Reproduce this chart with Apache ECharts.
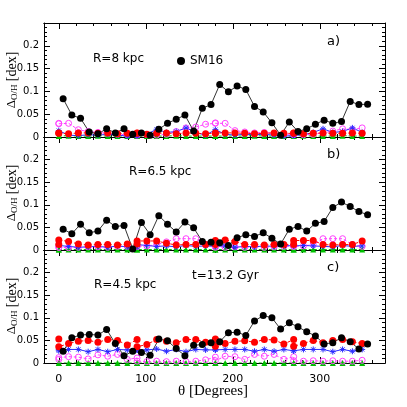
<!DOCTYPE html>
<html>
<head>
<meta charset="utf-8">
<script src="https://cdn.jsdelivr.net/npm/echarts@6/dist/echarts.min.js"></script>
<style>html,body{margin:0;background:#fff}#chart{width:407px;height:407px}</style>
</head>
<body>
<div id="chart"></div>
<script>
// azimuthal bins (degrees)
const thetaSM16 = [5,15,25,35,45,55,65,75,85,95,105,115,125,135,145,155,165,175,185,195,205,215,225,235,245,255,265,275,285,295,305,315,325,335,345,355];
const thetaModel = [0,0,11.25,22.5,33.75,45,56.25,67.5,78.75, 90,90,101.25,112.5,123.75,135,146.25,157.5,168.75,
  180,180,191.25,202.5,213.75,225,236.25,247.5,258.75, 270,270,281.25,292.5,303.75,315,326.25,337.5,348.75];

const xMajor = [0,100,200,300];
const xMinor = [20,40,60,80,120,140,160,180,220,240,260,280,320,340,360];

const panelLabels = ['a)','b)','c)'];
const radiusLabels = ['R=8 kpc','R=6.5 kpc','R=4.5 kpc'];

// SM16 (black)
const sm16A = [0.084,0.048,0.041,0.011,0.007,0.018,0.009,0.018,0.006,0.009,0.004,0.017,0.030,0.039,0.048,0.013,0.063,0.071,0.115,0.099,0.112,0.104,0.067,0.055,0.031,0.004,0.033,0.012,0.018,0.028,0.037,0.030,0.034,0.078,0.071,0.072];
const sm16B = [0.046,0.036,0.057,0.038,0.042,0.066,0.052,0.054,0.002,0.061,0.034,0.076,0.057,0.040,0.062,0.049,0.019,0.017,0.016,0.010,0.027,0.034,0.030,0.038,0.026,0.013,0.046,0.052,0.042,0.059,0.063,0.094,0.106,0.096,0.085,0.078];
const sm16C = [0.026,0.056,0.062,0.063,0.062,0.074,0.043,0.016,0.026,0.023,0.017,0.053,0.049,0.032,0.016,0.039,0.041,0.045,0.047,0.067,0.068,0.061,0.093,0.105,0.100,0.075,0.089,0.080,0.069,0.060,0.042,0.045,0.056,0.047,0.031,0.042];

// models
const redA = [0.009,0.008,0.007,0.009,0.009,0.008,0.009,0.007,0.008, 0.008,0.009,0.006,0.008,0.009,0.007,0.009,0.008,0.007, 0.009,0.008,0.009,0.009,0.008,0.007,0.008,0.009,0.008, 0.008,0.009,0.007,0.008,0.009,0.008,0.008,0.009,0.008];
const redB = [0.012,0.022,0.019,0.013,0.011,0.012,0.012,0.011,0.013, 0.013,0.020,0.020,0.020,0.015,0.011,0.012,0.012,0.012, 0.012,0.021,0.022,0.019,0.012,0.012,0.011,0.012,0.012, 0.012,0.021,0.021,0.021,0.012,0.011,0.012,0.012,0.020];
const redC = [0.053,0.036,0.043,0.048,0.050,0.046,0.052,0.050,0.040, 0.052,0.036,0.041,0.052,0.048,0.045,0.052,0.052,0.046, 0.053,0.037,0.043,0.048,0.049,0.046,0.052,0.051,0.042, 0.052,0.037,0.043,0.050,0.045,0.050,0.052,0.047,0.043];

const blueA = [0.014,0.010,0.004,0.003,0.005,0.004,0.006,0.004,0.002, 0.003,0.004,0.006,0.017,0.010,0.012,0.020,0.010,0.004, 0.016,0.012,0.006,0.004,0.006,0.005,0.006,0.004,0.002, 0.003,0.004,0.005,0.010,0.018,0.010,0.012,0.020,0.010];
const blueB = [0.010,0.012,0.008,0.006,0.007,0.008,0.006,0.009,0.007, 0.007,0.012,0.010,0.008,0.009,0.007,0.010,0.008,0.009, 0.008,0.012,0.009,0.006,0.008,0.007,0.009,0.008,0.010, 0.009,0.012,0.010,0.009,0.008,0.007,0.010,0.008,0.009];
const blueC = [0.027,0.030,0.030,0.030,0.025,0.030,0.025,0.030,0.029, 0.029,0.029,0.029,0.031,0.026,0.030,0.025,0.030,0.029, 0.029,0.029,0.030,0.030,0.030,0.026,0.030,0.026,0.030, 0.027,0.027,0.030,0.030,0.030,0.025,0.030,0.026,0.030];

const pinkA = [0.029,0.030,0.030,0.016,0.012,0.010,0.008,0.006,0.005, 0.005,0.004,0.005,0.004,0.006,0.012,0.020,0.022,0.028, 0.030,0.031,0.030,0.014,0.011,0.009,0.010,0.008,0.006, 0.006,0.005,0.005,0.006,0.009,0.013,0.018,0.016,0.020];
const pinkB = [0.006,0.006,0.005,0.006,0.007,0.007,0.006,0.008,0.008, 0.008,0.008,0.009,0.012,0.018,0.025,0.025,0.025,0.012, 0.008,0.006,0.006,0.007,0.006,0.008,0.006,0.007,0.008, 0.008,0.008,0.009,0.012,0.025,0.025,0.025,0.012,0.008];
const pinkC = [0.012,0.008,0.014,0.013,0.009,0.018,0.015,0.019,0.008, 0.011,0.004,0.003,0.004,0.003,0.004,0.003,0.004,0.007, 0.013,0.005,0.015,0.014,0.008,0.019,0.015,0.019,0.008, 0.014,0.005,0.004,0.005,0.004,0.005,0.004,0.004,0.006];

const greenA = [0.002,0.002,0.003,0.002,0.002,0.003,0.002,0.002,0.002, 0.002,0.003,0.002,0.002,0.002,0.003,0.002,0.002,0.002, 0.002,0.003,0.002,0.002,0.002,0.003,0.002,0.002,0.002, 0.002,0.002,0.003,0.002,0.002,0.002,0.003,0.002,0.002];
const greenB = [0.001,0.001,0.001,0.001,0.001,0.001,0.001,0.001,0.001, 0.001,0.001,0.001,0.001,0.001,0.001,0.001,0.001,0.001, 0.001,0.001,0.001,0.001,0.001,0.001,0.001,0.001,0.001, 0.001,0.001,0.001,0.001,0.001,0.001,0.001,0.001,0.001];
const greenC = [0,0,0,0,0,0,0,0,0, 0,0,0,0,0,0,0,0,0, 0,0,0,0,0,0,0,0,0, 0,0,0,0,0,0,0,0,0];

const panels = [
  { sm16: sm16A, red: redA, blue: blueA, pink: pinkA, green: greenA },
  { sm16: sm16B, red: redB, blue: blueB, pink: pinkB, green: greenB },
  { sm16: sm16C, red: redC, blue: blueC, pink: pinkC, green: greenC }
];

const tops = [23, 137, 250];
const heights = [114, 113, 113];
const sans = 'DejaVu Sans';
const serif = 'Liberation Serif';

const chart = echarts.init(document.getElementById('chart'));

const grid = [], xAxis = [], yAxis = [], series = [];

const pairs = (xs, ys) => xs.map((x, i) => [x, ys[i]]);
const frame = () => ({ show: true, onZero: false, lineStyle: { color: '#000', width: 1 } });
const ticks = (len, vals) => {
  const t = { show: true, inside: true, length: len, lineStyle: { color: '#000', width: 1 } };
  if (vals) t.customValues = vals.slice();
  return t;
};

panels.forEach((p, g) => {
  grid.push({ left: 44, width: 341, top: tops[g], height: heights[g], outerBoundsMode: 'none' });

  // x axes: bottom/top major, bottom/top minor
  [['bottom', 6, xMajor], ['top', 6, xMajor], ['bottom', 3, xMinor], ['top', 3, xMinor]].forEach(([pos, len, vals], k) => {
    const withLabels = g === 2 && k === 0;
    xAxis.push({
      gridIndex: g, type: 'value', min: -17, max: 375, position: pos,
      axisLine: frame(), splitLine: { show: false },
      axisTick: ticks(len, vals),
      axisLabel: withLabels
        ? { customValues: xMajor.slice(), color: '#000', fontSize: 11, fontFamily: sans, margin: 11 }
        : { show: false }
    });
  });

  // y axes: left with labels, right ticks only
  ['left', 'right'].forEach(pos => {
    yAxis.push({
      gridIndex: g, type: 'value', min: 0, max: 0.25, interval: 0.05, position: pos,
      axisLine: frame(), splitLine: { show: false },
      axisTick: ticks(6),
      minorTick: { show: true, splitNumber: 5, length: 3, lineStyle: { color: '#000', width: 1 } },
      axisLabel: pos === 'left'
        ? { color: '#000', fontSize: 10, fontFamily: sans, margin: 5,
            formatter: v => (v > 0.24 ? '' : String(+v.toFixed(2))) }
        : { show: false }
    });
  });

  const xi = g * 4, yi = g * 2;
  series.push({ type: 'line', name: 'green', xAxisIndex: xi, yAxisIndex: yi,
    data: pairs(thetaModel, p.green), symbol: 'triangle', symbolSize: 6,
    itemStyle: { color: '#00c000' }, lineStyle: { color: '#00c000', width: 1, type: [3, 2] } });
  series.push({ type: 'line', name: 'pink', xAxisIndex: xi, yAxisIndex: yi,
    data: pairs(thetaModel, p.pink), symbol: 'circle', symbolSize: 6,
    itemStyle: { color: 'rgba(255,255,255,0)', borderColor: '#ff40ff', borderWidth: 1 },
    lineStyle: { color: '#ff40ff', width: 1, type: [3, 2] } });
  series.push({ type: 'line', name: 'blue', xAxisIndex: xi, yAxisIndex: yi,
    data: pairs(thetaModel, p.blue),
    symbol: 'path://M0,5L10,5M5,0L5,10M1.5,1.5L8.5,8.5M8.5,1.5L1.5,8.5', symbolSize: 6,
    itemStyle: { color: '#2a2aff', borderColor: '#2a2aff', borderWidth: 1 },
    lineStyle: { color: '#2a2aff', width: 1 } });
  series.push({ type: 'line', name: 'red', xAxisIndex: xi, yAxisIndex: yi,
    data: pairs(thetaModel, p.red), symbol: 'circle', symbolSize: 7,
    itemStyle: { color: '#ff0000' }, lineStyle: { color: '#ff0000', width: 1, type: [3, 2] } });
  series.push({ type: 'line', name: 'SM16', xAxisIndex: xi, yAxisIndex: yi,
    data: pairs(thetaSM16, p.sm16), symbol: 'circle', symbolSize: 7,
    itemStyle: { color: '#000' }, lineStyle: { color: '#333', width: 1 } });
});

const txt = (text, left, top, size, font) => ({
  type: 'text', left: left, top: top,
  style: { text: text, fontSize: size, fontFamily: font || sans, fill: '#000' }
});
const yTitle = cy => ({
  type: 'text', x: 12, y: cy, rotation: Math.PI / 2,
  style: { text: '{d|Δ}{s|O/H} {b|[dex]}', align: 'center', verticalAlign: 'middle', fill: '#000',
    rich: {
      d: { fontSize: 13, fontFamily: serif, fill: '#000' },
      s: { fontSize: 9, fontFamily: serif, fill: '#000', verticalAlign: 'bottom' },
      b: { fontSize: 14, fontFamily: serif, fill: '#000' }
    } }
});

chart.setOption({
  animation: false,
  grid: grid,
  xAxis: xAxis,
  yAxis: yAxis,
  series: series,
  legend: {
    data: ['SM16'], icon: 'circle', left: 172, top: 50, itemWidth: 8, itemHeight: 8, itemGap: 4,
    textStyle: { color: '#000', fontSize: 12, fontFamily: sans }
  },
  graphic: [
    txt(panelLabels[0], 327, 35, 13),
    txt(radiusLabels[0], 93, 53, 12),
    txt(panelLabels[1], 327, 148, 13),
    txt(radiusLabels[1], 129, 166, 12),
    txt(panelLabels[2], 327, 261, 13),
    txt(radiusLabels[2], 94, 279, 12),
    txt('t=13.2 Gyr', 192, 270, 12),
    yTitle(80), yTitle(193), yTitle(306),
    { type: 'text', x: 213, y: 391,
      style: { text: 'θ [Degrees]', align: 'center', verticalAlign: 'middle',
        fontSize: 15, fontFamily: serif, fill: '#000' } }
  ]
});
</script>
</body>
</html>
